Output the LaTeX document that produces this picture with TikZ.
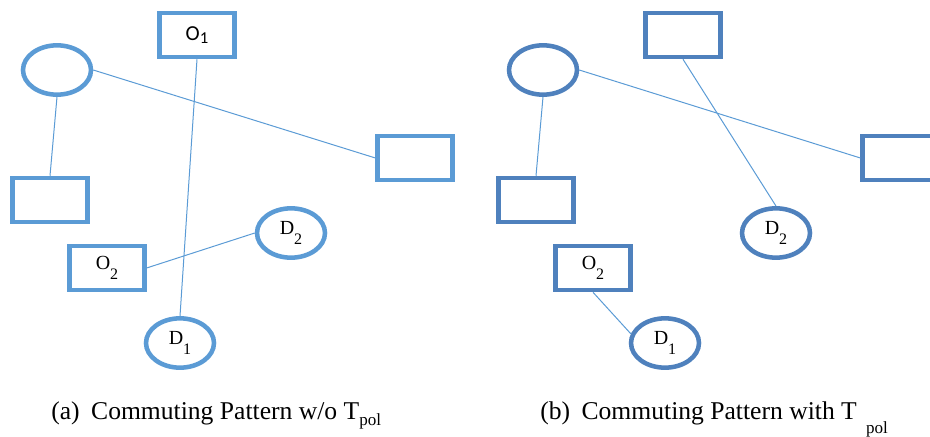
\documentclass[tikz,border=0pt]{standalone}
\usepackage{fontspec}
\setmainfont{Liberation Serif}
\newfontfamily\calfont{Carlito}
\usetikzlibrary{positioning}
\usetikzlibrary{shapes}
\usepackage{xcolor}
\definecolor{paleblue}{HTML}{5B9BD5}
\definecolor{deepblue}{HTML}{4F81BD}
\newcommand{\lowsub}[2]{\raisebox{-#1}{\fontsize{12}{12}\selectfont #2}}

\begin{document}
\begin{tikzpicture}[x=0.75pt, y=-0.75pt,
	box/.style = {draw, rectangle, line width=3.4pt, minimum width=56pt, minimum height=33pt, inner sep=0pt, font=\fontsize{15}{15}\selectfont},
	oval/.style = {draw, ellipse, line width=3.4pt, minimum width=51pt, minimum height=37pt, inner sep=0pt, font=\fontsize{15}{15}\selectfont},
	pa/.style = {draw=paleblue},
	pb/.style = {draw=deepblue},
	link/.style = {paleblue, line width=0.75pt},
	captext/.style = {anchor=base west, inner sep=0pt, font=\fontsize{19.2}{19.2}\selectfont}]
	\useasboundingbox (0,0) rectangle (930,436);
	% (a) without T_pol
	\node[box, pa] (o1) at (197,35) {\calfont\fontsize{16}{16}\selectfont O\raisebox{-0.12em}{\fontsize{12.5}{12.5}\selectfont 1}};
	\node[oval, pa] (e1) at (57,70) {};
	\node[box, pa] (r1) at (415,158) {};
	\node[box, pa] (b1) at (50,200) {};
	\node[oval, pa] (d2) at (291,233) {D\lowsub{0.47em}{2}};
	\node[box, pa] (o2) at (107,268) {O\lowsub{0.47em}{2}};
	\node[oval, pa] (d1) at (180,343) {D\lowsub{0.47em}{1}};
	\draw[link] (e1.east) -- (r1.west);
	\draw[link] (e1.south) -- (b1.north);
	\draw[link] (o1.south) -- (d1.north);
	\draw[link] (o2.east) -- (d2.west);
	% (b) with T_pol
	\node[box, pb] (o1b) at (683,35) {};
	\node[oval, pb] (e1b) at (543,70) {};
	\node[box, pb] (r1b) at (900,158) {};
	\node[box, pb] (b1b) at (536,200) {};
	\node[oval, pb] (d2b) at (776,233) {D\lowsub{0.47em}{2}};
	\node[box, pb] (o2b) at (593,268) {O\lowsub{0.47em}{2}};
	\node[oval, pb] (d1b) at (665,343) {D\lowsub{0.47em}{1}};
	\draw[link] (e1b.east) -- (r1b.west);
	\draw[link] (e1b.south) -- (b1b.north);
	\draw[link] (o1b.south) -- (d2b.north);
	\draw[link] (o2b.south) -- (d1b.165);
	% captions
	\node[captext] (capa) at (51,419) {(a)\hspace{0.45em}Commuting Pattern w/o T\raisebox{-4.5pt}{\fontsize{12.8}{12.8}\selectfont pol}};
	\node[captext] (capb) at (540,419) {(b)\hspace{0.45em}Commuting Pattern with T\hspace{7pt}\raisebox{-10.5pt}{\fontsize{12.8}{12.8}\selectfont pol}};
\end{tikzpicture}
\end{document}
